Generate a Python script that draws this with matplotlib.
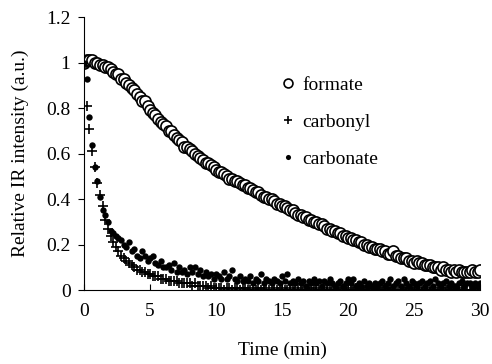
import matplotlib
matplotlib.use("Agg")
import matplotlib.pyplot as plt
import numpy as np

plt.rcParams['font.family'] = ['Liberation Serif', 'DejaVu Serif']

# relative IR intensity, one value every 0.2 min from 0 to 30 min
formate = [1.00, 1.01, 1.01, 1.01, 1.00, 1.00,
           0.99, 0.99, 0.98, 0.98, 0.97,
           0.96, 0.95, 0.95, 0.93, 0.93,
           0.91, 0.90, 0.89, 0.88, 0.86,
           0.85, 0.83, 0.83, 0.81, 0.79,
           0.78, 0.77, 0.75, 0.74, 0.73,
           0.72, 0.70, 0.70, 0.68, 0.67,
           0.66, 0.65, 0.63, 0.63, 0.62,
           0.61, 0.60, 0.59, 0.58, 0.57,
           0.56, 0.56, 0.55, 0.54, 0.53,
           0.52, 0.52, 0.51, 0.50, 0.49,
           0.49, 0.48, 0.48, 0.47, 0.46,
           0.46, 0.45, 0.45, 0.44, 0.43,
           0.43, 0.42, 0.41, 0.41, 0.40,
           0.40, 0.39, 0.38, 0.38, 0.37,
           0.37, 0.36, 0.35, 0.35, 0.34,
           0.33, 0.33, 0.32, 0.32, 0.31,
           0.31, 0.30, 0.30, 0.29, 0.29,
           0.28, 0.27, 0.27, 0.26, 0.26,
           0.25, 0.25, 0.24, 0.24, 0.23,
           0.23, 0.22, 0.22, 0.21, 0.21,
           0.20, 0.20, 0.19, 0.19, 0.18,
           0.18, 0.18, 0.17, 0.17, 0.16,
           0.16, 0.17, 0.15, 0.15, 0.14,
           0.14, 0.14, 0.13, 0.13, 0.12,
           0.13, 0.12, 0.12, 0.11, 0.11,
           0.11, 0.10, 0.10, 0.10, 0.09,
           0.10, 0.09, 0.09, 0.08, 0.09,
           0.08, 0.09, 0.08, 0.08, 0.08,
           0.08, 0.09, 0.08, 0.08, 0.09]

carbonyl = [0.98, 0.81, 0.71, 0.61, 0.54, 0.47,
            0.42, 0.37, 0.31, 0.27, 0.24,
            0.21, 0.19, 0.17, 0.15, 0.14,
            0.13, 0.12, 0.11, 0.10, 0.09,
            0.09, 0.08, 0.08, 0.07, 0.07,
            0.06, 0.06, 0.06, 0.05, 0.05,
            0.05, 0.04, 0.04, 0.04, 0.04,
            0.03, 0.03, 0.03, 0.03, 0.03,
            0.02, 0.03, 0.02, 0.02, 0.02,
            0.02, 0.01, 0.02, 0.01, 0.01,
            0.01, 0.01, 0.00, 0.01, 0.01,
            0.00, 0.01, 0.01, 0.00, 0.01,
            0.01, 0.00, 0.00, 0.01, 0.00,
            0.01, 0.00, 0.01, 0.00, 0.00,
            0.00, 0.01, 0.00, 0.00, 0.01,
            0.00, 0.00, 0.01, 0.00, 0.00,
            0.01, 0.00, 0.00, 0.00, 0.01,
            0.00, 0.00, 0.01, 0.00, 0.00,
            0.00, 0.01, 0.00, 0.00, 0.00,
            0.01, 0.00, 0.00, 0.01, 0.00,
            0.00, 0.00, 0.01, 0.00, 0.00,
            0.00, 0.01, 0.00, 0.00, 0.01,
            0.00, 0.00, 0.00, 0.01, 0.00,
            0.01, 0.00, 0.00, 0.00, 0.00,
            0.00, 0.01, 0.00, 0.01, 0.00,
            0.00, 0.00, 0.01, 0.00, 0.00,
            0.01, 0.00, 0.00, 0.00, 0.01,
            0.00, 0.00, 0.01, 0.00, 0.00,
            0.00, 0.01, 0.00, 0.00, 0.00,
            0.00, 0.00, 0.01, 0.00, 0.01]

carbonate = [1.00, 0.93, 0.76, 0.64, 0.54, 0.48,
             0.41, 0.35, 0.33, 0.30, 0.26,
             0.25, 0.24, 0.23, 0.22, 0.20,
             0.19, 0.21, 0.17, 0.18, 0.15,
             0.14, 0.17, 0.15, 0.13, 0.14,
             0.15, 0.12, 0.11, 0.13, 0.10,
             0.10, 0.11, 0.09, 0.12, 0.08,
             0.10, 0.08, 0.09, 0.07, 0.10,
             0.08, 0.10, 0.07, 0.09, 0.06,
             0.08, 0.06, 0.07, 0.05, 0.07,
             0.06, 0.05, 0.08, 0.05, 0.06,
             0.09, 0.05, 0.04, 0.06, 0.04,
             0.05, 0.04, 0.06, 0.03, 0.05,
             0.04, 0.07, 0.03, 0.05, 0.04,
             0.03, 0.05, 0.04, 0.03, 0.06,
             0.04, 0.07, 0.03, 0.04, 0.03,
             0.05, 0.03, 0.04, 0.02, 0.04,
             0.03, 0.05, 0.03, 0.04, 0.02,
             0.04, 0.03, 0.05, 0.03, 0.02,
             0.03, 0.04, 0.02, 0.03, 0.05,
             0.03, 0.05, 0.02, 0.03, 0.02,
             0.04, 0.02, 0.03, 0.02, 0.03,
             0.02, 0.03, 0.04, 0.02, 0.03,
             0.05, 0.02, 0.03, 0.04, 0.02,
             0.05, 0.03, 0.02, 0.04, 0.03,
             0.02, 0.03, 0.04, 0.02, 0.03,
             0.04, 0.02, 0.05, 0.03, 0.02,
             0.03, 0.04, 0.02, 0.03, 0.02,
             0.02, 0.03, 0.04, 0.02, 0.03,
             0.03, 0.02, 0.03, 0.02, 0.03]

time = np.arange(len(formate)) * 0.2

fig = plt.figure(figsize=(4.92, 3.64), dpi=100)
ax = fig.add_axes([0.171, 0.203, 0.805, 0.75])

ax.plot(time, formate, 'o', ms=8, mfc='white', mec='black', mew=1.2,
        label='formate', linestyle='none')
ax.plot(time, carbonyl, '+', ms=7.5, mec='black', mew=1.2,
        label='carbonyl', linestyle='none')
ax.plot(time, carbonate, 'o', ms=4.6, mfc='black', mec='black', mew=0,
        label='carbonate', linestyle='none')

ax.set_xlim(0, 30)
ax.set_ylim(0, 1.2)
ax.set_xticks([0, 5, 10, 15, 20, 25, 30])
ax.set_yticks([0, 0.2, 0.4, 0.6, 0.8, 1.0, 1.2])
ax.set_yticklabels(['0', '0.2', '0.4', '0.6', '0.8', '1', '1.2'])
ax.tick_params(axis='x', direction='in', length=4.5, pad=9, labelsize=14)
ax.tick_params(axis='y', direction='out', length=4.3, pad=5.5, labelsize=14)
ax.spines['top'].set_visible(False)
ax.spines['right'].set_visible(False)

ax.set_xlabel('Time (min)', fontsize=14, labelpad=16)
ax.set_ylabel('Relative IR intensity (a.u.)', fontsize=14, labelpad=12)

ax.legend(loc='upper left', bbox_to_anchor=(0.452, 0.848), frameon=False,
          fontsize=14, labelspacing=1.0, handlelength=0.8, handletextpad=0.3,
          markerscale=0.8)

fig.savefig('out.png', dpi=100)
